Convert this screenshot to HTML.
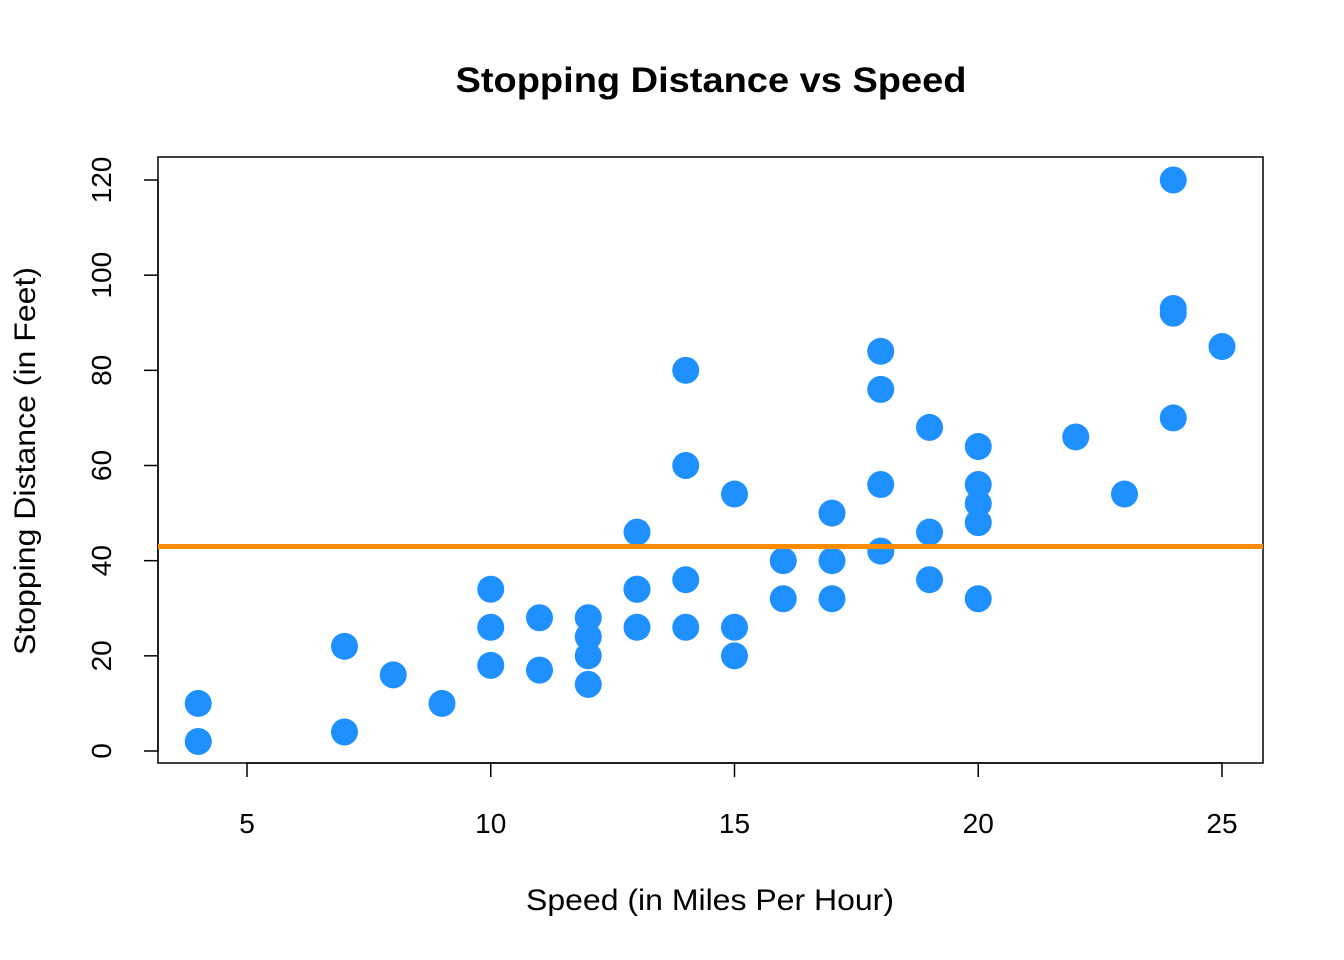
<!DOCTYPE html>
<html><head><meta charset="utf-8"><style>
html,body{margin:0;padding:0;background:#fff;}
svg{display:block;font-family:"Liberation Sans",Arial,sans-serif;}
</style></head><body>
<svg id="chart" width="1344" height="960">
<text x="711" y="92" text-anchor="middle" font-size="35" font-weight="bold" textLength="511" lengthAdjust="spacingAndGlyphs">Stopping Distance vs Speed</text>
<rect x="158" y="157" width="1105" height="606" fill="none" stroke="#000" stroke-width="1.5"/>
<g id="xaxis"></g>
<g id="yaxis"></g>
<text x="710" y="910" text-anchor="middle" font-size="30" textLength="368" lengthAdjust="spacingAndGlyphs">Speed (in Miles Per Hour)</text>
<text transform="translate(35,461) rotate(-90)" text-anchor="middle" font-size="30" textLength="388" lengthAdjust="spacingAndGlyphs">Stopping Distance (in Feet)</text>
<g id="points"></g>
<g id="lines"></g>
</svg>
<script>
const speed=[4,4,7,7,8,9,10,10,10,11,11,12,12,12,12,13,13,13,13,14,14,14,14,15,15,15,16,16,17,17,17,18,18,18,18,19,19,19,20,20,20,20,20,22,23,24,24,24,24,25];
const dist=[2,10,4,22,16,10,18,26,34,17,28,14,20,24,28,26,34,34,46,26,36,60,80,20,26,54,32,40,32,40,50,42,56,76,84,36,46,68,32,48,52,56,64,66,54,70,92,93,120,85];
const xTicks=[5,10,15,20,25];
const yTicks=[0,20,40,60,80,100,120];
const meanLine=[42.98];
const NS="http://www.w3.org/2000/svg";
const sx=v=>247+(v-5)*48.75;
const sy=v=>751-v*(571/120);
function mk(t,a,p){const e=document.createElementNS(NS,t);for(const k in a)e.setAttribute(k,a[k]);p.appendChild(e);return e;}
const xa=document.getElementById('xaxis'),ya=document.getElementById('yaxis');
mk('line',{x1:sx(5),x2:sx(25),y1:763,y2:763,stroke:'#000','stroke-width':1.5},xa);
xTicks.forEach(t=>{
 const l=mk('line',{x1:sx(t),x2:sx(t),y1:763,y2:777,stroke:'#000','stroke-width':1.5},xa);
 
 
 const tx=mk('text',{x:sx(t),y:833,'text-anchor':'middle','font-size':28},xa);tx.textContent=t;
 
 
});
mk('line',{x1:158,x2:158,y1:sy(0),y2:sy(120),stroke:'#000','stroke-width':1.5},ya);
yTicks.forEach(t=>{
 const l=mk('line',{x1:144,x2:158,y1:sy(t),y2:sy(t),stroke:'#000','stroke-width':1.5},ya);
 
 
 const tx=mk('text',{transform:`translate(111,${sy(t)}) rotate(-90)`,'text-anchor':'middle','font-size':28},ya);tx.textContent=t;
 
 
});
const pg=document.getElementById('points');
speed.forEach((s,i)=>{
 const c=mk('circle',{cx:sx(s),cy:sy(dist[i]),r:13.5,fill:'#1E90FF'},pg);
 
 
});
const lg=document.getElementById('lines');
meanLine.forEach(m=>{
 const l=mk('line',{x1:158,x2:1263,y1:sy(m),y2:sy(m),stroke:'#FF8C00','stroke-width':5},lg);
 
 
});
</script>
</body></html>
